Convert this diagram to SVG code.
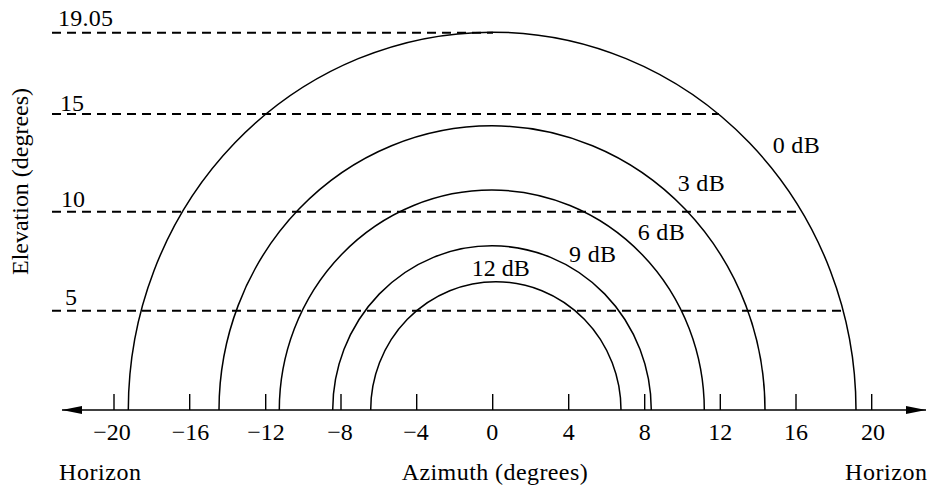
<svg xmlns="http://www.w3.org/2000/svg" width="930" height="488" viewBox="0 0 930 488">
<style>
.tick text{text-anchor:middle}
.arc{fill:none;stroke:#000;stroke-width:1.5}
.dash{fill:none;stroke:#000;stroke-width:2;stroke-dasharray:9 6}
.ax{fill:none;stroke:#000;stroke-width:1.4}
</style>
<defs>
<marker id="ah" viewBox="0 0 20 8" refX="20" refY="4" markerWidth="20" markerHeight="8" markerUnits="userSpaceOnUse" orient="auto-start-reverse">
<path d="M0 0L20 4L0 8z" fill="#000"/>
</marker>
</defs>
<rect width="930" height="488" fill="#fff"/>
<g font-family="Liberation Serif, serif" font-size="24" fill="#000">
<g id="levels">
<line class="dash" x1="52" y1="32.7" x2="493" y2="32.7"/>
<line class="dash" x1="52" y1="114" x2="719" y2="114"/>
<line class="dash" x1="52" y1="211.7" x2="802" y2="211.7"/>
<line class="dash" x1="52" y1="310.7" x2="843" y2="310.7"/>
<text x="58" y="26" textLength="55">19.05</text>
<text x="60" y="111">15</text>
<text x="61" y="206.7">10</text>
<text x="65" y="305">5</text>
</g>
<g id="arc-0dB"><path class="arc" d="M128.3 410A363.85 378 0 0 1 856 410"/><text x="772.7" y="153.3" textLength="47">0 dB</text></g>
<g id="arc-3dB"><path class="arc" d="M219 410A273 284.3 0 0 1 765 410"/><text x="677.7" y="190.7" textLength="47">3 dB</text></g>
<g id="arc-6dB"><path class="arc" d="M279.3 410A212.5 220 0 0 1 704.3 410"/><text x="637.7" y="240" textLength="47">6 dB</text></g>
<g id="arc-9dB"><path class="arc" d="M332.7 410A159.3 164.3 0 0 1 651.3 410"/><text x="569" y="261.7" textLength="47">9 dB</text></g>
<g id="arc-12dB"><path class="arc" d="M370.7 410A125.15 128.3 0 0 1 621 410"/><text x="471.7" y="275.7" textLength="58">12 dB</text></g>
<g id="connectors">
<line class="ax" x1="62" y1="410" x2="926" y2="410" marker-start="url(#ah)" marker-end="url(#ah)"/>
</g>
<g id="axis" class="tick">
<g class="ax">
<line x1="114" y1="394" x2="114" y2="410"/>
<line x1="189.7" y1="394" x2="189.7" y2="410"/>
<line x1="265.7" y1="394" x2="265.7" y2="410"/>
<line x1="341" y1="394" x2="341" y2="410"/>
<line x1="416.7" y1="394" x2="416.7" y2="410"/>
<line x1="492.7" y1="394" x2="492.7" y2="410"/>
<line x1="568.7" y1="394" x2="568.7" y2="410"/>
<line x1="644.7" y1="394" x2="644.7" y2="410"/>
<line x1="720.3" y1="394" x2="720.3" y2="410"/>
<line x1="796" y1="394" x2="796" y2="410"/>
<line x1="871.7" y1="394" x2="871.7" y2="410"/>
</g>
<text x="112" y="440">−20</text>
<text x="190.5" y="440">−16</text>
<text x="266" y="440">−12</text>
<text x="340" y="440">−8</text>
<text x="416" y="440">−4</text>
<text x="492.3" y="440">0</text>
<text x="568.7" y="440">4</text>
<text x="644.7" y="440">8</text>
<text x="720.3" y="440">12</text>
<text x="796" y="440">16</text>
<text x="873" y="440">20</text>
</g>
<g id="labels">
<text x="59" y="480" textLength="82">Horizon</text>
<text x="401.7" y="480" textLength="186">Azimuth (degrees)</text>
<text x="927" y="480" text-anchor="end" textLength="82">Horizon</text>
<text transform="translate(28 181.5) rotate(-90)" text-anchor="middle" textLength="187">Elevation (degrees)</text>
</g>
</g>
</svg>
